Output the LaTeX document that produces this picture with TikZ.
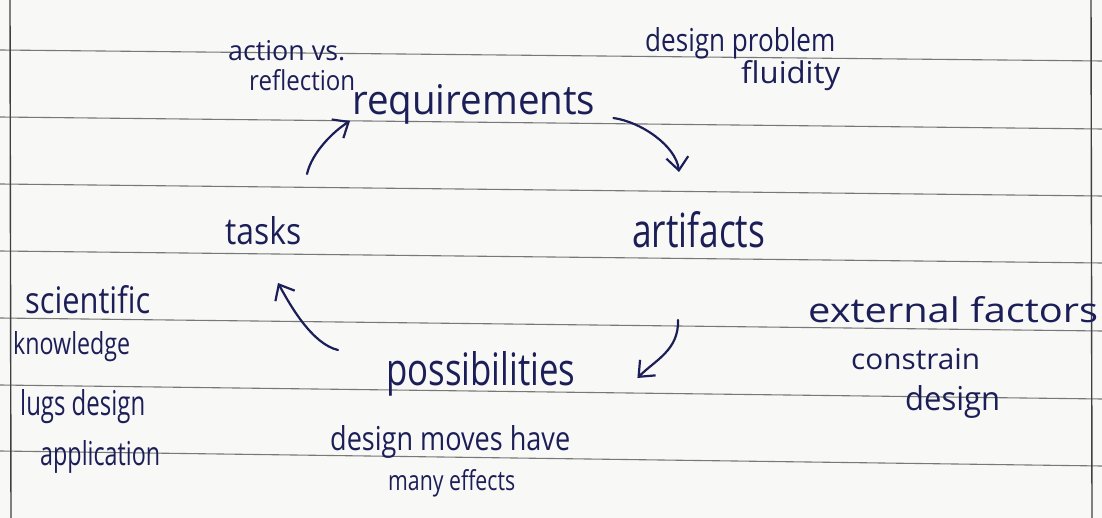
\documentclass[tikz,border=0pt]{standalone}
\usepackage{fontspec}
\usepackage{graphicx}
\setmainfont{Open Sans}
\usetikzlibrary{arrows.meta}
\definecolor{ink}{RGB}{28,30,88}
\definecolor{ruling}{RGB}{120,120,120}
\definecolor{paper}{RGB}{248,248,246}
% a handwritten word set to a given width and height (in px = pt)
\newcommand{\inkw}[3]{\resizebox{#1pt}{#2pt}{#3}}
\tikzset{
  note/.style={anchor=base west, inner sep=0pt, text=ink},
  rule/.style={draw=ruling, line width=1.1pt},
  flow/.style={draw=ink, line width=2.2pt, line cap=round,
    -{Straight Barb[length=13pt,width=22pt,line width=2.2pt]}}
}
\begin{document}
\begin{tikzpicture}[x=1pt,y=-1pt]
  \fill[paper] (0,0) rectangle (1102,518);
  \useasboundingbox (0,0) rectangle (1102,518);

  % ruled lines of the notebook page
  \foreach \l/\r in {50/61, 117/129, 184/196, 251/263, 318/331, 385/399, 451/466}
    \draw[rule] (0,\l) -- (1102,\r);
  % margins
  \draw[rule, line width=1.4pt, draw=black!75] (10,0) -- (11,518);
  \draw[rule, line width=1.4pt, draw=black!75] (1091,0) -- (1092,518);

  % the four stages of the cycle
  \node[note] (req)  at (352,115) {\inkw{243}{30}{requirements}};
  \node[note] (art)  at (632,248) {\inkw{133}{36}{artifacts}};
  \node[note] (poss) at (386,385) {\inkw{189}{34}{possibilities}};
  \node[note] (tasks) at (225,245) {\inkw{76}{28}{tasks}};

  % side notes
  \node[note] (act)  at (228,61)  {\inkw{117}{20}{action vs.}};
  \node[note] (refl) at (249,91)  {\inkw{106}{21}{reflection}};
  \node[note] (dprob) at (645,52) {\inkw{190}{24}{design problem}};
  \node[note] (fluid) at (741,84) {\inkw{99}{23}{fluidity}};
  \node[note] (ext)  at (808,322) {\inkw{290}{26}{external factors}};
  \node[note] (cons) at (851,369) {\inkw{129}{21}{constrain}};
  \node[note] (cdes) at (905,410) {\inkw{95}{25}{design}};
  \node[note] (sci)  at (25,313)  {\inkw{125}{28}{scientific}};
  \node[note] (know) at (13,355)  {\inkw{117}{23}{knowledge}};
  \node[note] (lugs) at (20,415)  {\inkw{125}{26}{lugs design}};
  \node[note] (appl) at (40,465)  {\inkw{120}{25}{application}};
  \node[note] (moves) at (330,450) {\inkw{240}{25}{design moves have}};
  \node[note] (many) at (388,490) {\inkw{127}{21}{many effects}};

  % cycle arrows
  \draw[flow] ([shift={(82,-71)}]tasks.base west)
    .. controls +(5,-22) and +(-16,10) .. ([shift={(-2,6)}]req.base west);
  \draw[flow] ([shift={(18,3)}]req.base east)
    .. controls +(28,4) and +(-3,-26) .. ([shift={(47,-76)}]art.base west);
  \draw[flow] ([shift={(46,72)}]art.base west)
    .. controls +(1,30) and +(18,-18) .. ([shift={(62,-7)}]poss.base east);
  \draw[flow] ([shift={(-48,-35)}]poss.base west)
    .. controls +(-26,-6) and +(12,22) .. ([shift={(53,38)}]tasks.base west);
\end{tikzpicture}
\end{document}
